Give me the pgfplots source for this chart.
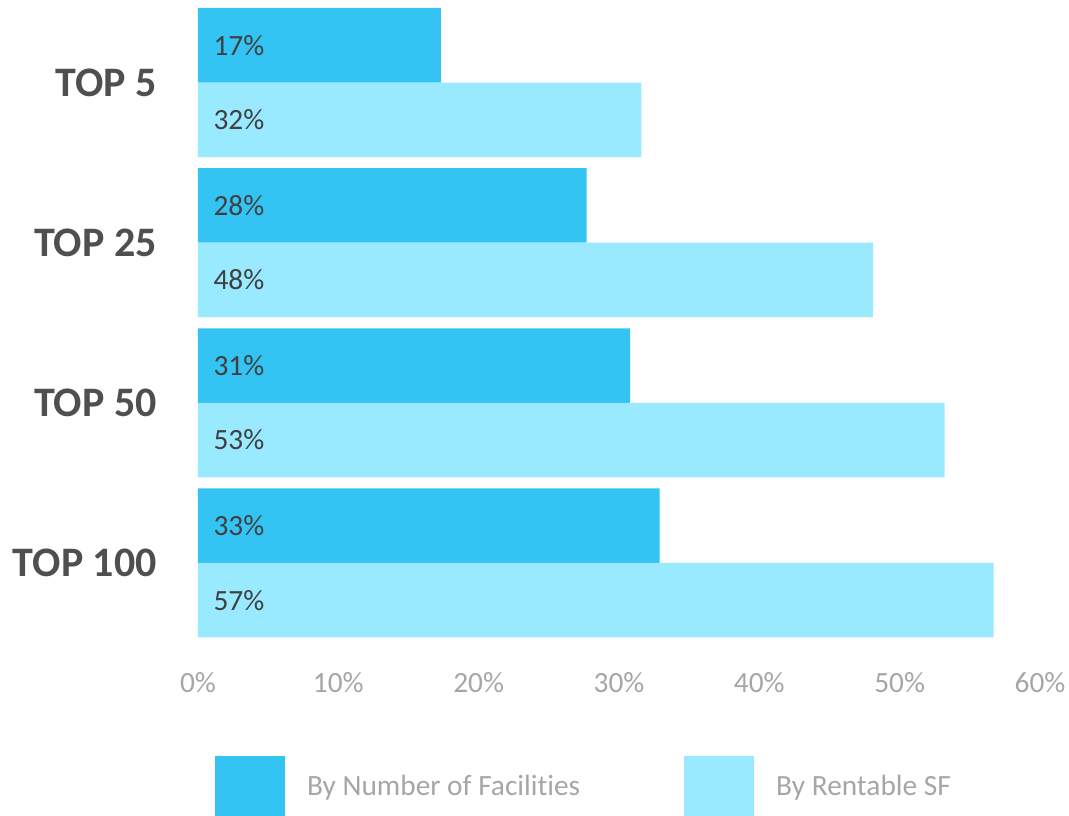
\documentclass[border=0pt]{standalone}
\usepackage{pgfplots}
\pgfplotsset{compat=1.18}
\usepackage{fontspec}
\setmainfont[Ligatures=NoCommon]{Carlito}
\definecolor{darkbar}{HTML}{33C4F3}
\definecolor{lightbar}{HTML}{99E9FF}
\definecolor{labgray}{HTML}{404040}
\definecolor{catgray}{HTML}{4F4F4F}
\definecolor{tickgray}{HTML}{A6A6A6}
\begin{document}
\begin{tikzpicture}
\useasboundingbox (-148.5pt,-129.75pt) rectangle (653.25pt,482.25pt);
\begin{axis}[
  at={(0,0)}, anchor=south west,
  scale only axis, width=631.5pt, height=480.4pt,
  xmin=0, xmax=60, ymin=-0.5, ymax=3.5,
  axis line style={draw=none},
  major tick length=0pt,
  tick style={draw=none},
  xtick={0,10,...,60},
  xticklabels={0\%,10\%,20\%,30\%,40\%,50\%,60\%},
  xticklabel style={font=\fontsize{22}{26}\selectfont, text=tickgray, anchor=base, inner sep=0pt, yshift=-36.75pt},
  ytick={0,1,2,3},
  yticklabels={\textbf{TOP 100},\textbf{TOP 50},\textbf{TOP 25},\textbf{TOP 5}},
  yticklabel style={font=\fontsize{31.5}{38}\selectfont\bfseries, text=catgray, anchor=east, inner sep=0pt, xshift=-30.75pt},
  xbar, bar width=55.9pt,
  legend image code/.code={\fill[#1,draw=none] (0pt,-22.5pt) rectangle (52.5pt,22.5pt);},
  legend style={at={(0,0)}, anchor=north west, xshift=12.75pt, yshift=-84.75pt,
    draw=none, fill=none, inner sep=0pt, outer sep=0pt, legend columns=2,
    font=\fontsize{22}{26}\selectfont, text=tickgray,
    /tikz/every even column/.append style={column sep=78pt},
    /tikz/every odd column/.append style={column sep=16.5pt},
    nodes={inner sep=0pt}, cells={anchor=west}},
]
\addplot[fill=darkbar, draw=none, bar shift=27.95pt] coordinates {(17.3,3) (27.7,2) (30.8,1) (32.9,0)};
\addplot[fill=lightbar, draw=none, bar shift=-27.95pt] coordinates {(31.6,3) (48.1,2) (53.2,1) (56.7,0)};
\addplot[draw=none, fill=none, bar shift=27.95pt, forget plot, point meta=explicit symbolic, nodes near coords,
  nodes near coords style={anchor=west, inner sep=0pt, xshift=11.5pt, text=labgray, font=\fontsize{22}{26}\selectfont}]
  coordinates {(0,3)[17\%] (0,2)[28\%] (0,1)[31\%] (0,0)[33\%]};
\addplot[draw=none, fill=none, bar shift=-27.95pt, forget plot, point meta=explicit symbolic, nodes near coords,
  nodes near coords style={anchor=west, inner sep=0pt, xshift=11.5pt, text=labgray, font=\fontsize{22}{26}\selectfont}]
  coordinates {(0,3)[32\%] (0,2)[48\%] (0,1)[53\%] (0,0)[57\%]};
\legend{By Number of Facilities, By Rentable SF}
\end{axis}
\end{tikzpicture}
\end{document}
